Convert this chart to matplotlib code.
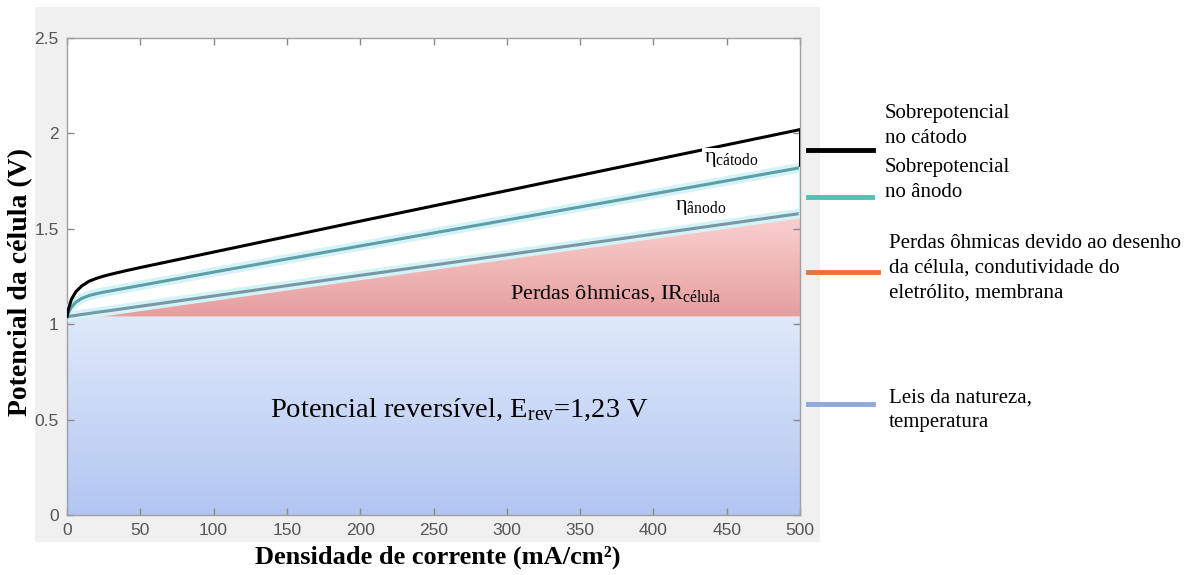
import matplotlib
matplotlib.use("Agg")
import matplotlib.pyplot as plt
import numpy as np
from matplotlib.patches import Rectangle
from matplotlib.lines import Line2D

plt.rcParams['mathtext.fontset'] = 'custom'
plt.rcParams['mathtext.rm'] = 'Liberation Serif'
plt.rcParams['mathtext.it'] = 'Liberation Serif:italic'
plt.rcParams['mathtext.bf'] = 'Liberation Serif:bold'

# current density (mA/cm2) and cell potential (V)
densidade = [0, 1, 3, 6, 10, 15, 20, 25, 30, 40, 50, 100, 200, 300, 400, 500]
v_catodo = [1.04, 1.08, 1.13, 1.17, 1.20, 1.225, 1.24, 1.252, 1.262, 1.28, 1.297,
            1.378, 1.54, 1.70, 1.86, 2.02]
v_anodo = [1.04, 1.06, 1.09, 1.115, 1.135, 1.15, 1.16, 1.168, 1.175, 1.189, 1.203,
           1.273, 1.41, 1.546, 1.683, 1.82]
v_ohmico = [1.04, 1.041, 1.043, 1.046, 1.051, 1.056, 1.062, 1.067, 1.072, 1.083, 1.094,
            1.148, 1.256, 1.364, 1.472, 1.58]
v_rev = 1.04

xticks = [0, 50, 100, 150, 200, 250, 300, 350, 400, 450, 500]
yticks = [0, 0.5, 1, 1.5, 2, 2.5]
yticklabels = ['0', '0.5', '1', '1.5', '2', '2.5']

legenda = [
    ('Sobrepotencial\nno cátodo', 'black'),
    ('Sobrepotencial\nno ânodo', '#4fc1b5'),
    ('Perdas ôhmicas devido ao desenho\nda célula, condutividade do\neletrólito, membrana', '#e8743b'),
    ('Leis da natureza,\ntemperatura', '#8fa9dc'),
]

W, H = 1200, 575
fig = plt.figure(figsize=(12, 5.75), dpi=100)


def fx(px):
    return px / W


def fy(py):
    return 1 - py / H


# grey matlab-like window behind the axes
fig.patches.append(Rectangle((fx(35), fy(542)), fx(820) - fx(35), fy(7) - fy(542),
                             transform=fig.transFigure, facecolor='#f0f0f0',
                             edgecolor='none', zorder=-1))

ax = fig.add_axes([fx(67), fy(515), fx(800) - fx(67), fy(38) - fy(515)])
ax.set_zorder(2)

x = np.array(densidade)


def gradient_fill(ax, y1, y2, c_top, c_bot, ytop, ybot):
    poly = ax.fill_between(x, y1, y2, color='none', lw=0)
    c_top = np.array(matplotlib.colors.to_rgb(c_top))
    c_bot = np.array(matplotlib.colors.to_rgb(c_bot))
    t = np.linspace(0, 1, 256)[:, None]
    img = (c_top * (1 - t) + c_bot * t)[:, None, :]
    im = ax.imshow(img, extent=[0, 500, ybot, ytop], aspect='auto', zorder=1)
    path = poly.get_paths()[0]
    im.set_clip_path(path, transform=ax.transData)


gradient_fill(ax, np.full(len(x), 0.0), np.full(len(x), v_rev), '#dfe9fa', '#b2c6f2', v_rev, 0)
gradient_fill(ax, np.full(len(x), v_rev), v_ohmico, '#fcd2d2', '#e59e9e', max(v_ohmico), v_rev)
ax.set_xlim(0, 500)
ax.set_ylim(0, 2.5)

# curves with a light halo
ax.plot(x, v_ohmico, color='#d4f3f6', lw=7, zorder=3, solid_capstyle='butt')
ax.plot(x, v_ohmico, color='#7a97a6', lw=2.2, zorder=4)
ax.plot(x, v_anodo, color='#d4f3f6', lw=7, zorder=3, solid_capstyle='butt')
ax.plot(x, v_anodo, color='#5f9ea6', lw=2.2, zorder=4)
ax.plot(x, v_catodo, color='black', lw=2.2, zorder=5)
ax.plot([500, 500], [v_anodo[-1], v_catodo[-1]], color='black', lw=2.2, zorder=5)
ax.plot([500, 500], [v_ohmico[-1], v_anodo[-1]], color='#bfeff4', lw=2.5, zorder=5)

ax.set_facecolor('white')
for s in ax.spines.values():
    s.set_color('#a0a0a0')
    s.set_linewidth(1.0)
ax.set_xticks(xticks)
ax.set_yticks(yticks)
ax.set_yticklabels(yticklabels)
ax.tick_params(direction='in', top=True, right=True, length=5, width=1, color='#8a8a8a',
               labelcolor='#555555', labelsize=12.5, pad=6)
for lab in ax.get_xticklabels() + ax.get_yticklabels():
    lab.set_fontfamily(['Liberation Sans', 'DejaVu Sans'])

# texts inside the plot
serif = 'Liberation Serif'
ax.text(268, 0.55, r'Potencial reversível, E$_{\mathrm{rev}}$=1,23 V',
        fontsize=20.5, family=serif, ha='center', va='center', zorder=6)
ax.text(374, 1.16, r'Perdas ôhmicas, IR$_{\mathrm{célula}}$',
        fontsize=16, family=serif, ha='center', va='center', zorder=6)
box = dict(facecolor='white', edgecolor='none', pad=1.5)
ax.text(453, 1.865, r'η$_{\mathrm{cátodo}}$', fontsize=16, family=serif,
        ha='center', va='center', zorder=6, bbox=box)
ax.text(432, 1.61, r'η$_{\mathrm{ânodo}}$', fontsize=16, family=serif,
        ha='center', va='center', zorder=6, bbox=box)

# axis labels
fig.text(fx(438), fy(557), 'Densidade de corrente (mA/cm²)', fontsize=19, family=serif,
         weight='bold', ha='center', va='center')
fig.text(fx(21), fy(282), 'Potencial da célula (V)', fontsize=20, family=serif,
         weight='bold', ha='center', va='center', rotation=90)

# legend-like annotations on the right
marks_y = [150, 197, 272, 404]
text_y = [126, 180, 268, 410]
text_x = [885, 885, 889, 889]
ends = [873, 872, 878, 873]
for (label, col), my, ty, tx, xe in zip(legenda, marks_y, text_y, text_x, ends):
    fig.lines.append(Line2D([fx(808), fx(xe)], [fy(my), fy(my)], transform=fig.transFigure,
                            color=col, lw=3.5))
    fig.text(fx(tx), fy(ty), label, fontsize=15, family=serif, ha='left', va='center',
             linespacing=1.4)

fig.savefig('out.png', dpi=100)
